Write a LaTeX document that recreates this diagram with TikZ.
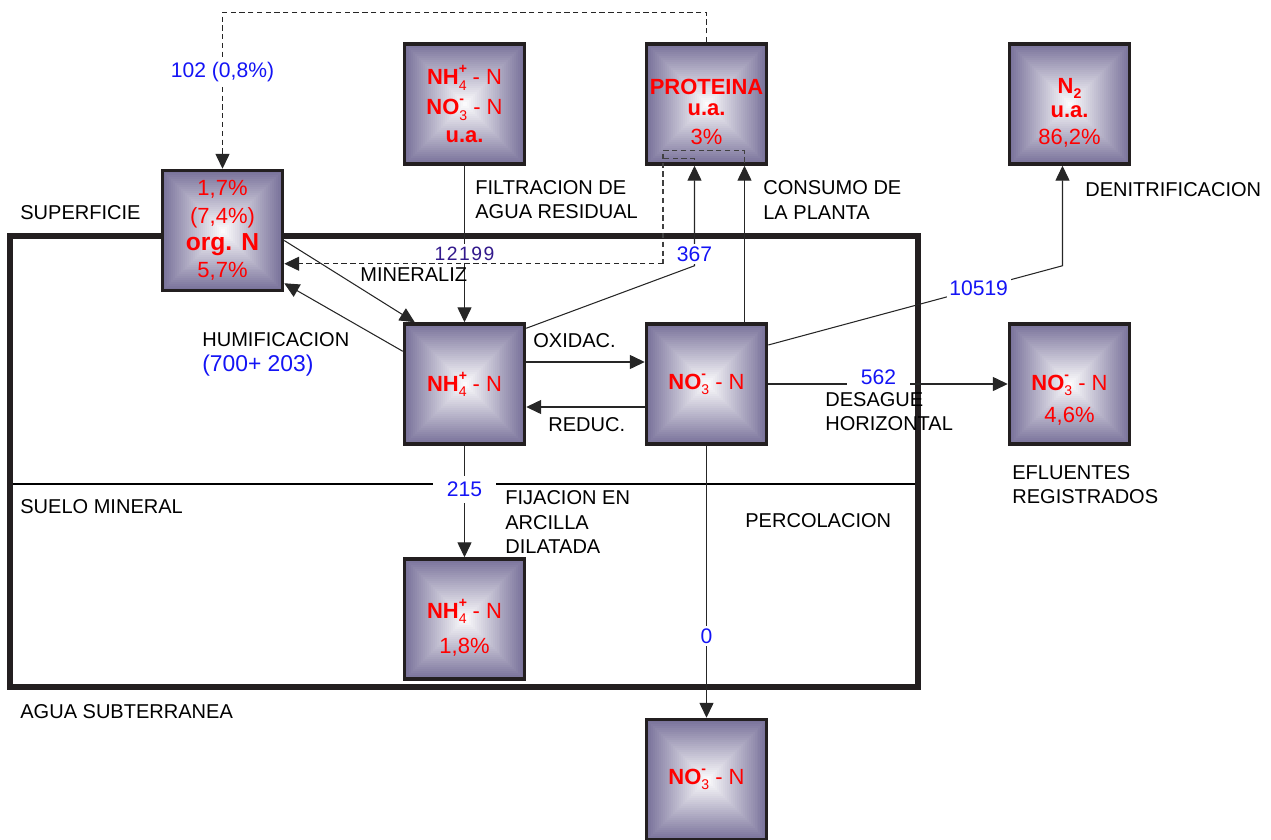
\documentclass[tikz,border=0pt]{standalone}
\usepackage{fontspec}
\setmainfont{Liberation Sans}
\usetikzlibrary{positioning,calc,arrows.meta}

\definecolor{boxdark}{RGB}{122,115,155}
\definecolor{boxrim}{RGB}{35,31,32}
\definecolor{flowblue}{RGB}{20,20,245}
\definecolor{inflowblue}{RGB}{50,25,140}

\newcommand{\chemion}[3]{\textbf{#1}\rlap{\raisebox{0.95ex}{\fontsize{8}{8}\selectfont\textbf{#3}}}\raisebox{-0.45ex}{\fontsize{8}{8}\selectfont #2}}
\newcommand{\lift}[1]{\rule{0pt}{#1}}

\begin{document}
\begin{tikzpicture}[
            x=0.02cm, y=-0.02cm,
            pool/.style={draw=boxrim, line width=2pt, minimum size=2.4cm, inner sep=0pt,
                align=center, text=red, font=\fontsize{12.5}{15.5}\selectfont,
                path picture={
                    \foreach \k [evaluate=\k as \f using 1-\k/30, evaluate=\k as \m using 100*\k/30] in {0,...,29}
                        \fill[white!\m!boxdark] ($(path picture bounding box.center)!\f!(path picture bounding box.north west)$) rectangle ($(path picture bounding box.center)!\f!(path picture bounding box.south east)$);
                }},
            txt/.style={anchor=west, align=left, inner sep=0pt, font=\fontsize{11.4}{13.7}\selectfont},
            qty/.style={text=flowblue, fill=white, inner sep=1.5pt, font=\fontsize{12}{14}\selectfont},
            flow/.style={draw=black!85, line width=0.6pt, -{Triangle[length=8.5pt,width=8pt]}},
            ret/.style={flow, dash pattern=on 3pt off 2pt},
            retline/.style={draw=black!75, line width=0.6pt, dash pattern=on 3pt off 2pt}
        ]
        \useasboundingbox (0,0) rectangle (1271,839);

        % Soil layers
        \draw[line width=0.6pt] (10,484) -- (918,484);
        \draw[line width=3.3pt, draw=boxrim] (10,236) rectangle (918,687);

        % Nitrogen pools
        \node[pool] (orgn) at (222.5,230.5) {1,7\%\\(7,4\%)\\{\fontsize{14}{15.5}\selectfont\textbf{org. N}}\\5,7\%};
        \node[pool] (filt) at (464.5,104)   {\chemion{NH}{4}{+} - N\\[1.5pt]\chemion{NO}{3}{-} - N\\\textbf{u.a.}};
        \node[pool] (prot) at (706.5,104)   {\lift{18pt}\textbf{PROTEINA}\\[-3.5pt]\textbf{u.a.}\\[1pt]3\%};
        \node[pool] (ntwo) at (1069.5,104)  {\lift{19pt}\textbf{N\raisebox{-0.4ex}{\fontsize{8}{8}\selectfont 2}}\\[-2pt]\textbf{u.a.}\\[0pt]86,2\%};
        \node[pool] (amon) at (464.5,384)   {\chemion{NH}{4}{+} - N};
        \node[pool] (nitr) at (706.5,384)   {\chemion{NO}{3}{-} - N};
        \node[pool] (efl)  at (1069.5,384)  {\lift{27pt}\chemion{NO}{3}{-} - N\\[2.5pt]4,6\%};
        \node[pool] (fix)  at (464.5,619)   {\lift{21pt}\chemion{NH}{4}{+} - N\\[4.5pt]1,8\%};
        \node[pool] (perc) at (706.5,779.5) {\chemion{NO}{3}{-} - N};

        % Input with the waste water
        \draw[flow] (filt.south) -- node[qty, text=inflowblue, font=\fontsize{11}{13}\selectfont\addfontfeature{LetterSpace=8}, pos=0.56] {12199} (amon.north);

        % Mineralization, humification
        \draw[flow] ($(orgn.east)+(0,10)$) -- ($(amon.north west)+(12,0)$);
        \draw[flow] ($(amon.north west)+(0,29)$) -- ($(orgn.south east)+(0,-9)$);

        % Oxidation, reduction
        \draw[flow] ($(amon.east)+(0,-22)$) -- ($(nitr.west)+(0,-22)$);
        \draw[flow] ($(nitr.west)+(0,23)$) -- ($(amon.east)+(0,23)$);

        % Plant uptake
        \draw[flow] ($(amon.north east)+(0,6)$) -- ($(prot.south)+(-12,100)$) -- node[qty, pos=0.12] {367} ($(prot.south)+(-12,0)$);
        \draw[flow] ($(nitr.north)+(38,0)$) -- ($(prot.south)+(38,0)$);

        % Denitrification
        \draw[flow] ($(nitr.east)+(0,-39)$) -- node[qty, pos=0.715] {10519} ($(ntwo.south)+(-7,100)$) -- ($(ntwo.south)+(-7,0)$);

        % Drainage, fixation, percolation
        \draw[flow] (nitr.east) -- node[qty, pos=0.46, anchor=south, yshift=-3pt, inner xsep=8pt, inner ysep=2.5pt] {562} (efl.west);
        \draw[flow] (amon.south) -- node[qty, pos=0.39, inner xsep=8pt, inner ysep=3.5pt] {215} (fix.north);
        \draw[flow] (nitr.south) -- node[qty, pos=0.70] {0} (perc.north);

        % Return of plant residues
        \draw[ret] (prot.north) -- ++(0,-30) -| node[qty, pos=0.69] {102 (0,8\%)} (orgn.north);
        \draw[retline] ($(prot.south)+(38,-3)$) |- ($(prot.south)+(-43.5,-15)$) -- ($(prot.south)+(-43.5,98)$) coordinate (back);
        \draw[retline] ($(prot.south)+(-12,-6)$) |- ($(prot.south)+(-43.5,-7)$);
        \draw[ret] (back) -- (orgn.east |- back);

        % Process and layer labels
        \node[txt] (lsup)  at (20,213)   {SUPERFICIE};
        \node[txt] (lfilt) at (475,200)  {FILTRACION DE\\AGUA RESIDUAL};
        \node[txt] (lcons) at (763,200)  {CONSUMO DE\\LA PLANTA};
        \node[txt] (lden)  at (1085,190) {DENITRIFICACION};
        \node[txt] (lmin)  at (360,275)  {MINERALIZ};
        \node[txt] (lhum)  at (202,340)  {HUMIFICACION};
        \node[txt, text=flowblue, font=\fontsize{13}{15}\selectfont] (lhumq) at (202,366) {(700+ 203)};
        \node[txt] (loxi)  at (533,341)  {OXIDAC.};
        \node[txt] (lred)  at (548,425)  {REDUC.};
        \node[txt] (ldes)  at (825,412)  {DESAGUE\\HORIZONTAL};
        \node[txt] (lefl)  at (1012,485) {EFLUENTES\\REGISTRADOS};
        \node[txt] (lsue)  at (20,507)   {SUELO MINERAL};
        \node[txt] (lfij)  at (505,522)  {FIJACION EN\\ARCILLA\\DILATADA};
        \node[txt] (lper)  at (745,521)  {PERCOLACION};
        \node[txt] (lagu)  at (20,712)   {AGUA SUBTERRANEA};
    \end{tikzpicture}
\end{document}
